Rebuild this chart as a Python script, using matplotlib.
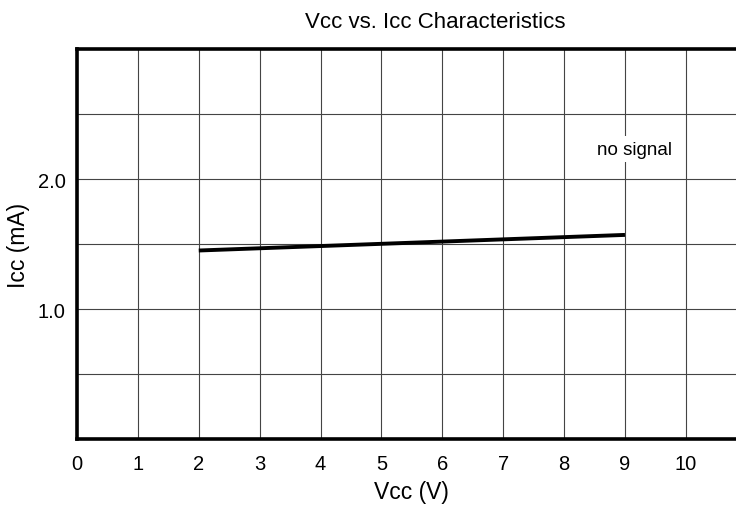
import numpy as np
import matplotlib
matplotlib.use("Agg")
import matplotlib.pyplot as plt

plt.rcParams['font.family'] = ['Liberation Sans', 'DejaVu Sans']

# data
vcc = [2, 9]
icc = [1.45, 1.57]
x_ticks = list(range(0, 12))
x_labels = [str(i) for i in range(0, 11)] + [""]
y_ticks = [0.5, 1.0, 1.5, 2.0, 2.5]
y_labels = ["", "1.0", "", "2.0", ""]

fig = plt.figure(figsize=(7.36, 5.06), dpi=100)
ax = fig.add_axes([0.1046, 0.1304, 0.910, 0.7708])

ax.plot(vcc, icc, color='black', linewidth=2.8, solid_capstyle='butt', zorder=3)

ax.set_xlim(0, 11)
ax.set_ylim(0, 3)
ax.set_xticks(x_ticks)
ax.set_xticklabels(x_labels)
ax.set_yticks(y_ticks)
ax.set_yticklabels(y_labels)
ax.tick_params(length=0, labelsize=14.5, colors='black')
ax.tick_params(axis='x', pad=11)
ax.tick_params(axis='y', pad=8)
ax.grid(True, color='#444444', linewidth=0.8)
for s in ax.spines.values():
    s.set_linewidth(2.6)
    s.set_color('black')

ax.set_xlabel('Vcc (V)', fontsize=16.5, labelpad=5)
ax.set_ylabel('Icc (mA)', fontsize=16.5, labelpad=6)
fig.text(0.592, 0.955, 'Vcc vs. Icc Characteristics', ha='center', va='center', fontsize=16)

ax.text(9.15, 2.23, 'no signal', ha='center', va='center', fontsize=13.5,
        bbox=dict(facecolor='white', edgecolor='none', pad=3), zorder=4)

fig.savefig('out.png', dpi=100)
